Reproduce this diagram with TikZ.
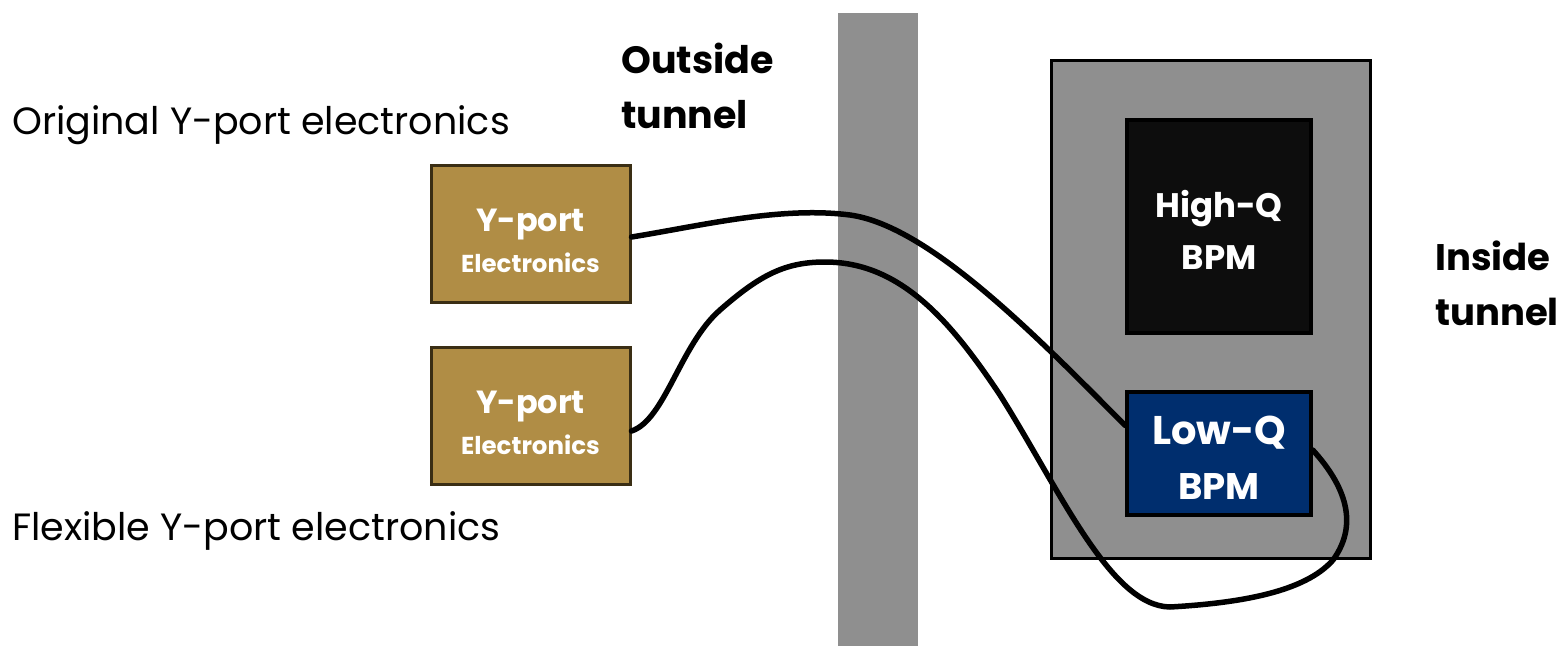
\documentclass[tikz,border=0pt]{standalone}
\usepackage{fontspec}
\setmainfont{Poppins}
\definecolor{wallgray}{RGB}{143,143,143}
\definecolor{ybrown}{RGB}{176,141,69}
\definecolor{ydark}{RGB}{58,46,20}
\definecolor{lowblue}{RGB}{0,46,110}
\definecolor{highblack}{RGB}{13,13,13}
\newcommand{\ylabel}{{\fontsize{32}{40}\selectfont\bfseries\rule{0pt}{38pt}Y-port}\\[12pt]{\fontsize{24.5}{28}\selectfont\bfseries Electronics}}
\tikzset{
  ybox/.style={draw=ydark, line width=3pt, fill=ybrown, minimum width=199pt, minimum height=137pt, text=white, align=center, inner sep=0pt},
  bpmbox/.style={draw=black, line width=3.5pt, text=white, align=center, inner sep=0pt},
  lbl/.style={anchor=base west, inner sep=0pt, font=\fontsize{38}{44}\selectfont},
  blbl/.style={anchor=base west, inner sep=0pt, align=left, font=\fontsize{38}{55}\selectfont\bfseries},
  cable/.style={line width=5.5pt, line cap=round, line join=round}
}
\begin{document}
\begin{tikzpicture}[x=1pt,y=-1pt]
\useasboundingbox (0,0) rectangle (1559,646);
% wall
\fill[wallgray] (838,13) rectangle (918,646);
% outer inside-tunnel box
\node[draw=black, line width=3pt, fill=wallgray, minimum width=319pt, minimum height=498pt, inner sep=0pt] (rack) at (1210.5,309) {};
\node[bpmbox, fill=highblack, minimum width=184pt, minimum height=213pt, font=\fontsize{34}{52}\selectfont\bfseries] (high) at (1219,226.5) {\rule{0pt}{33pt}High-Q\\BPM};
\node[bpmbox, fill=lowblue, minimum width=184pt, minimum height=123pt, font=\fontsize{37}{55}\selectfont\bfseries] (low) at (1219,453.5) {{\fontsize{40}{55}\selectfont\rule{0pt}{36pt}Low-Q}\\BPM};
% Y-port boxes
\node[ybox] (y1) at (530.5,233.5) {\ylabel};
\node[ybox] (y2) at (530.5,415.5) {\ylabel};
% labels
\node[lbl] (orig) at (12,134) {Original Y-port electronics};
\node[lbl] (flex) at (12,540) {Flexible Y-port electronics};
\node[blbl] (outside) at (621,128) {Outside\\tunnel};
\node[blbl, font=\fontsize{37}{55}\selectfont\bfseries] (inside) at (1435,325) {Inside\\tunnel};
% cables
\coordinate (c1s) at ([yshift=-3.5pt]y1.east);
\coordinate (c2s) at ([yshift=-15.5pt]y2.east);
\coordinate (c1e) at ([yshift=28pt]low.west);
\coordinate (c2e) at ([yshift=3.5pt]low.east);
\draw[cable] (c1s) .. controls (700,226) and (780,206) .. (850,215)
  .. controls (930,226) and (1040,340) .. (c1e);
\draw[cable] (c2s) .. controls (665,420) and (680,345) .. (720,310)
  .. controls (760,275) and (785,262) .. (825,262)
  .. controls (900,262) and (950,320) .. (1000,395)
  .. controls (1060,490) and (1110,606) .. (1170,607)
  .. controls (1240,603) and (1305,592) .. (1333,560)
  .. controls (1362,520) and (1340,480) .. (c2e);
\end{tikzpicture}
\end{document}
